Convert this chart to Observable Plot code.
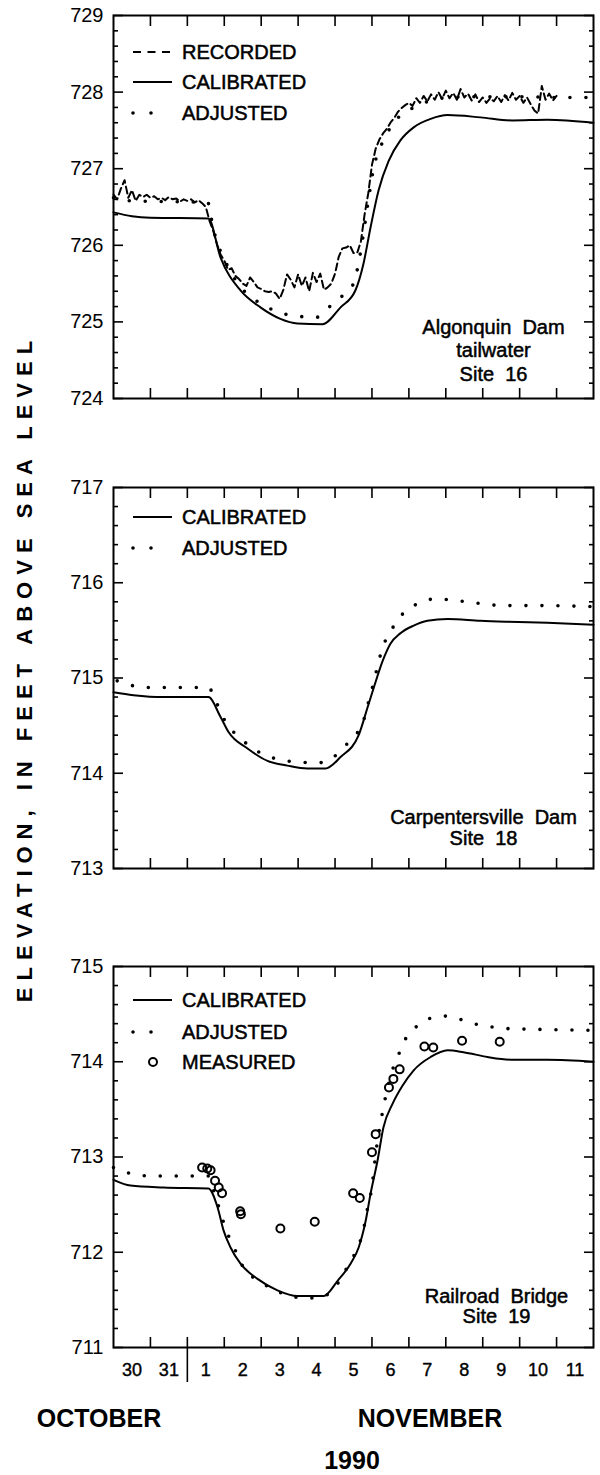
<!DOCTYPE html>
<html>
<head>
<meta charset="utf-8">
<script src="https://cdn.jsdelivr.net/npm/d3@7"></script>
<script src="https://cdn.jsdelivr.net/npm/@observablehq/plot@0.6"></script>
<style>
  html, body { margin: 0; padding: 0; background: #fff; }
  #fig { position: relative; width: 600px; height: 1475px; font-family: "Liberation Sans", Arial, sans-serif; color: #000; overflow: hidden; }
  .panel { position: absolute; left: 0; }
  .legend-row { position: absolute; height: 26px; line-height: 26px; font-size: 20px; white-space: nowrap; -webkit-text-stroke: 0.5px #000; }
  .legend-row svg { position: absolute; left: 0; top: 0; }
  .legend-row span { position: absolute; }
  .ytitle { position: absolute; left: 25px; top: 668px; transform: translate(-50%, -50%) rotate(-90deg); font-weight: bold; font-size: 22px; letter-spacing: 7px; white-space: nowrap; }
  .month { position: absolute; font-weight: bold; font-size: 25px; transform: translate(-50%, -50%); white-space: nowrap; }
</style>
</head>
<body>
<div id="fig"></div>
<script>
// x is measured in days since 30 October 1990, 00:00
const dayLabels = ["30", "31", "1", "2", "3", "4", "5", "6", "7", "8", "9", "10", "11"];

// Site 16 — Algonquin Dam tailwater (feet above sea level)
const recordedStart = 0;
const recordedStep = 0.1;
const site16Recorded = [
  726.66, 726.60, 726.74, 726.85, 726.62, 726.72, 726.58, 726.66, 726.63, 726.66,
  726.62, 726.64, 726.60, 726.62, 726.59, 726.63, 726.60, 726.61, 726.57, 726.60,
  726.58, 726.60, 726.56, 726.59, 726.55, 726.50, 726.32, 726.19, 726.02, 725.88,
  725.80, 725.68, 725.70, 725.60, 725.56, 725.50, 725.47, 725.58, 725.52, 725.45,
  725.43, 725.40, 725.39, 725.40, 725.37, 725.30, 725.42, 725.62, 725.55, 725.45,
  725.62, 725.47, 725.58, 725.40, 725.64, 725.52, 725.63, 725.42, 725.45, 725.50,
  725.63, 725.85, 725.96, 725.97, 726.00, 725.90, 725.90, 726.05, 726.40, 726.68,
  727.05, 727.26, 727.38, 727.46, 727.52, 727.60, 727.66, 727.74, 727.79, 727.83,
  727.86, 727.82, 727.92, 727.86, 727.95, 727.88, 727.97, 727.90, 728.00, 727.91,
  728.02, 727.92, 727.99, 727.90, 728.04, 727.93, 727.98, 727.89, 727.97, 727.87,
  727.93, 727.86, 727.92, 727.88, 727.95, 727.87, 727.96, 727.89, 727.99, 727.90,
  727.95, 727.86, 727.93, 727.84, 727.76, 727.72, 728.08, 727.90, 727.98, 727.89,
  727.95
];
const site16Calibrated = [
  [0, 726.43], [0.5, 726.38], [1.0, 726.36], [2.57, 726.35], [2.9, 725.84], [3.44, 725.41],
  [3.98, 725.19], [4.52, 725.04], [4.98, 724.98], [5.66, 724.97], [6.15, 725.19], [6.55, 725.41],
  [6.77, 725.76], [6.96, 726.23], [7.18, 726.72], [7.45, 727.10], [7.77, 727.37], [8.13, 727.54],
  [8.59, 727.65], [9.05, 727.70], [9.94, 727.67], [10.8, 727.63], [11.75, 727.64], [13, 727.60]
];
const site16Adjusted = [
  [0, 726.62], [0.5, 726.58], [1.5, 726.57], [2.55, 726.56], [2.7, 726.22], [2.9, 725.92],
  [3.1, 725.72], [3.4, 725.48], [3.8, 725.30], [4.25, 725.17], [4.66, 725.10], [5.06, 725.07],
  [5.5, 725.06], [5.88, 725.21], [6.2, 725.34], [6.5, 725.50], [6.65, 725.80], [6.77, 726.15],
  [6.9, 726.58], [7.05, 727.02], [7.23, 727.28], [7.58, 727.59], [8.13, 727.80], [8.6, 727.89],
  [9.05, 727.93], [10, 727.94], [11, 727.94], [12, 727.93], [13, 727.93]
];

// Site 18 — Carpentersville Dam
const site18Calibrated = [
  [0, 714.85], [0.54, 714.82], [1.35, 714.80], [2.57, 714.80], [2.9, 714.59], [3.12, 714.43],
  [3.63, 714.26], [4.17, 714.13], [4.71, 714.08], [5.25, 714.05], [5.74, 714.05], [6.15, 714.17],
  [6.64, 714.40], [6.88, 714.69], [7.05, 714.90], [7.29, 715.18], [7.5, 715.36], [7.77, 715.47],
  [8.13, 715.55], [8.5, 715.60], [9.05, 715.62], [9.94, 715.60], [10.67, 715.59], [11.75, 715.58],
  [13, 715.56]
];
const site18Adjusted = [
  [0.1, 714.97], [0.4, 714.93], [1.0, 714.90], [2.57, 714.90], [2.76, 714.77], [2.9, 714.64],
  [3.12, 714.49], [3.41, 714.38], [3.73, 714.27], [4.12, 714.19], [4.52, 714.14], [4.95, 714.12],
  [5.35, 714.11], [5.56, 714.11], [5.96, 714.17], [6.28, 714.29], [6.58, 714.41], [6.77, 714.55],
  [6.88, 714.71], [7.0, 714.88], [7.1, 715.04], [7.2, 715.20], [7.34, 715.37], [7.55, 715.52],
  [7.8, 715.66], [7.94, 715.71], [8.3, 715.79], [8.7, 715.83], [9.13, 715.82], [9.56, 715.80],
  [9.99, 715.78], [10.53, 715.76], [11.5, 715.76], [13, 715.75]
];

// Site 19 — Railroad Bridge
const site19Calibrated = [
  [0, 712.76], [0.46, 712.70], [1.35, 712.68], [2.57, 712.67], [2.82, 712.47], [2.98, 712.23],
  [3.17, 712.05], [3.44, 711.88], [3.9, 711.72], [4.44, 711.60], [4.98, 711.54], [5.69, 711.54],
  [6.07, 711.70], [6.42, 711.88], [6.64, 712.05], [6.83, 712.33], [6.96, 712.61], [7.15, 712.96],
  [7.31, 713.31], [7.56, 713.56], [7.83, 713.75], [8.13, 713.91], [8.59, 714.05], [9.05, 714.12],
  [9.48, 714.10], [10.13, 714.05], [10.83, 714.02], [11.75, 714.02], [13, 714.00]
];
const site19Adjusted = [
  [0, 712.89], [0.33, 712.84], [1.0, 712.80], [2.57, 712.80], [2.76, 712.58], [2.9, 712.42],
  [3.03, 712.25], [3.22, 712.09], [3.52, 711.84], [3.98, 711.69], [4.33, 711.61], [4.71, 711.55],
  [5.15, 711.52], [5.52, 711.52], [5.96, 711.61], [6.15, 711.72], [6.37, 711.87], [6.58, 712.02],
  [6.74, 712.19], [6.83, 712.35], [6.91, 712.53], [7.0, 712.68], [7.05, 712.86], [7.15, 713.17],
  [7.23, 713.35], [7.31, 713.52], [7.64, 714.01], [7.83, 714.16], [7.91, 714.24], [8.18, 714.36],
  [8.53, 714.45], [8.94, 714.48], [9.34, 714.45], [9.75, 714.40], [10.16, 714.37], [10.56, 714.35],
  [11.5, 714.34], [13, 714.33]
];
const site19Measured = [
  [2.40, 712.89], [2.54, 712.88], [2.63, 712.86], [2.75, 712.75], [2.85, 712.68], [2.94, 712.62],
  [3.43, 712.43], [3.45, 712.40], [4.52, 712.25], [5.45, 712.32], [6.49, 712.62], [6.67, 712.57],
  [7.00, 713.05], [7.10, 713.24], [7.46, 713.73], [7.58, 713.82], [7.75, 713.92], [8.42, 714.16],
  [8.66, 714.15], [9.44, 714.22], [10.46, 714.21]
];

const siteLabels = [
  "Algonquin\u00a0\u00a0Dam\ntailwater\nSite\u00a0\u00a016",
  "Carpentersville\u00a0\u00a0Dam\nSite\u00a0\u00a018",
  "Railroad\u00a0\u00a0Bridge\nSite\u00a0\u00a019"
];

const fig = d3.select("#fig");

// Frame with inward ticks on all four sides, elevation labels on the left.
// Ticks are shifted back across the frame line by their own length so they point inward.
function framedAxes(yDomain) {
  const [y0, y1] = yDomain;
  const minor = d3.range(Math.round((y1 - y0) / 0.2) + 1).map(i => +(y0 + i * 0.2).toFixed(1)).filter(v => v % 1 !== 0);
  const major = d3.range(y0, y1 + 1);
  const days = d3.range(1, 13);
  const tick = {text: null, label: null, strokeWidth: 1.6};
  return [
    Plot.axisX(days, {anchor: "bottom", tickSize: 10, dy: -10, ...tick}),
    Plot.axisX(days, {anchor: "top", tickSize: 10, dy: 10, ...tick}),
    Plot.axisY(minor, {anchor: "left", tickSize: 5, dx: 5, ...tick}),
    Plot.axisY(minor, {anchor: "right", tickSize: 5, dx: -5, ...tick}),
    Plot.axisY(major, {anchor: "left", tickSize: 10, dx: 10, ...tick}),
    Plot.axisY(major, {anchor: "right", tickSize: 10, dx: -10, ...tick}),
    Plot.axisY(major, {anchor: "left", tickSize: 0, tickPadding: 10, fontSize: 20, tickFormat: d => String(d), label: null, stroke: "#000", strokeWidth: 0.5}),
    Plot.frame({strokeWidth: 2})
  ];
}

function panel({top, height, marginBottom, yDomain, marks}) {
  const chart = Plot.plot({
    width: 600,
    height,
    marginLeft: 113,
    marginRight: 7,
    marginTop: 15,
    marginBottom,
    x: {domain: [0, 13], label: null},
    y: {domain: yDomain, label: null},
    style: {fontFamily: "Liberation Sans, Arial, sans-serif", fontSize: "20px", color: "#000", background: "transparent", overflow: "visible"},
    marks: [...framedAxes(yDomain), ...marks]
  });
  chart.classList.add("panel");
  chart.style.top = top + "px";
  fig.node().appendChild(chart);
}

const calibrated = data => Plot.line(data, {curve: "monotone-x", stroke: "#000", strokeWidth: 2});
const adjusted = data => Plot.line(data, {curve: "monotone-x", stroke: "#000", strokeWidth: 3.6, strokeDasharray: "0,16", strokeLinecap: "round"});
const siteText = (label, dx, dy, lineHeight) => Plot.text([label], {
  text: d => d, frameAnchor: "bottom-right", dx, dy, textAnchor: "middle", lineAnchor: "bottom", lineHeight, fontSize: 20,
  fill: "#000", stroke: "#000", strokeWidth: 0.5
});

panel({
  top: 0, height: 420, marginBottom: 22, yDomain: [724, 729],
  marks: [
    Plot.line(site16Recorded, {x: (d, i) => recordedStart + i * recordedStep, y: d => d, stroke: "#000", strokeWidth: 2, strokeDasharray: "7,4"}),
    calibrated(site16Calibrated),
    adjusted(site16Adjusted),
    siteText(siteLabels[0], -100, -18, 1.17)
  ]
});

panel({
  top: 472, height: 420, marginBottom: 24, yDomain: [713, 717],
  marks: [
    calibrated(site18Calibrated),
    adjusted(site18Adjusted),
    siteText(siteLabels[1], -110, -24, 1.05)
  ]
});

panel({
  top: 951, height: 441, marginBottom: 45, yDomain: [711, 715],
  marks: [
    calibrated(site19Calibrated),
    adjusted(site19Adjusted),
    Plot.dot(site19Measured, {r: 4, stroke: "#000", strokeWidth: 2, fill: "none"}),
    siteText(siteLabels[2], -97, -25, 0.98),
    // day-of-month labels centred on each day
    Plot.text(dayLabels, {x: (d, i) => i + 0.5, text: d => d, frameAnchor: "bottom", dy: 28, fontSize: 18, fill: "#000", stroke: "#000", strokeWidth: 0.4}),
    // October / November divider
    Plot.axisX([2], {anchor: "bottom", tickSize: 35, text: null, label: null, strokeWidth: 1.6})
  ]
});

// Legends drawn inside each frame
function legend(rows) {
  for (const {y, label, kind} of rows) {
    const row = fig.append("div").attr("class", "legend-row").style("left", "130px").style("top", (y - 13) + "px").style("width", "300px");
    const svg = row.append("svg").attr("width", 44).attr("height", 26);
    if (kind === "circle") {
      svg.append("circle").attr("cx", 23).attr("cy", 13).attr("r", 4).attr("fill", "none").attr("stroke", "#000").attr("stroke-width", 2);
    } else {
      const line = svg.append("line").attr("x1", 3).attr("x2", kind === "dot" ? 39 : 42).attr("y1", 13).attr("y2", 13).attr("stroke", "#000");
      if (kind === "dash") line.attr("stroke-width", 2).attr("stroke-dasharray", "8,6.5");
      if (kind === "solid") line.attr("stroke-width", 2);
      if (kind === "dot") line.attr("stroke-width", 3.6).attr("stroke-dasharray", "0,18").attr("stroke-linecap", "round");
    }
    row.append("span").style("left", "52px").text(label);
  }
}

legend([
  {y: 52, label: "RECORDED", kind: "dash"},
  {y: 82, label: "CALIBRATED", kind: "solid"},
  {y: 113, label: "ADJUSTED", kind: "dot"}
]);
legend([
  {y: 517, label: "CALIBRATED", kind: "solid"},
  {y: 548, label: "ADJUSTED", kind: "dot"}
]);
legend([
  {y: 1000, label: "CALIBRATED", kind: "solid"},
  {y: 1032, label: "ADJUSTED", kind: "dot"},
  {y: 1062, label: "MEASURED", kind: "circle"}
]);

fig.append("div").attr("class", "ytitle").text("ELEVATION,  IN  FEET  ABOVE  SEA  LEVEL");
fig.append("div").attr("class", "month").style("left", "99px").style("top", "1418px").text("OCTOBER");
fig.append("div").attr("class", "month").style("left", "430px").style("top", "1418px").text("NOVEMBER");
fig.append("div").attr("class", "month").style("left", "352px").style("top", "1460px").text("1990");
</script>
</body>
</html>
